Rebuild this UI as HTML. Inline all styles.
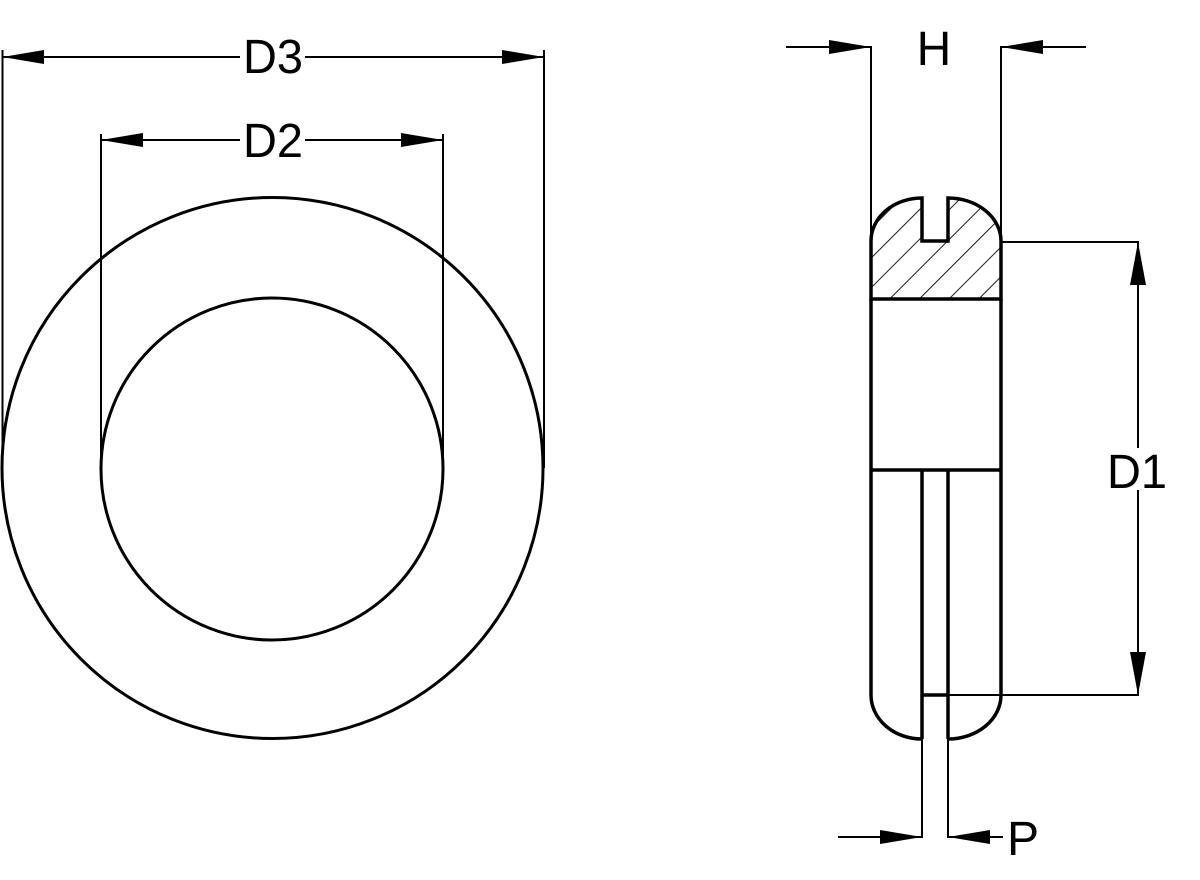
<!DOCTYPE html>
<html><head><style>html,body{margin:0;padding:0;background:#fff;}svg{display:block;}</style></head>
<body>
<svg width="1200" height="880" viewBox="0 0 1200 880" xmlns="http://www.w3.org/2000/svg">
<defs>
<pattern id="h" patternUnits="userSpaceOnUse" width="21" height="21" patternTransform="rotate(45)">
<line x1="0" y1="0" x2="0" y2="21" stroke="#000" stroke-width="1.8"/>
</pattern>
<clipPath id="c"><path d="M871,299 L871,241 A51,43 0 0 1 922,198 L922,241 L948,241 L948,198 A53,43 0 0 1 1001,241 L1001,299 Z"/></clipPath>
</defs>
<g fill="none" stroke="#000">
<circle cx="272.5" cy="468" r="270.5" stroke-width="3"/>
<circle cx="272" cy="469" r="171" stroke-width="3"/>
<line x1="2.5" y1="50" x2="2.5" y2="468" stroke-width="2"/>
<line x1="544" y1="50" x2="544" y2="468" stroke-width="2"/>
<line x1="101" y1="134" x2="101" y2="469" stroke-width="2"/>
<line x1="443" y1="134" x2="443" y2="469" stroke-width="2"/>
<line x1="2.5" y1="57" x2="240" y2="57" stroke-width="2"/>
<line x1="305" y1="57" x2="544" y2="57" stroke-width="2"/>
<line x1="101" y1="140" x2="240" y2="140" stroke-width="2"/>
<line x1="305" y1="140" x2="443" y2="140" stroke-width="2"/>
<rect x="860" y="190" width="150" height="120" fill="url(#h)" stroke="none" clip-path="url(#c)"/>
<path d="M871,299 L871,241 A51,43 0 0 1 922,198 L922,241 L948,241 L948,198 A53,43 0 0 1 1001,241 L1001,299 Z" stroke-width="3.5"/>
<line x1="871" y1="299" x2="871" y2="695" stroke-width="3.5"/>
<line x1="1001" y1="299" x2="1001" y2="695" stroke-width="3.5"/>
<line x1="871" y1="470" x2="1001" y2="470" stroke-width="3.5"/>
<path d="M871,695 A51,44 0 0 0 922,739" stroke-width="3.5"/>
<path d="M1001,695 A53,44 0 0 1 948,739" stroke-width="3.5"/>
<line x1="922" y1="470" x2="922" y2="739" stroke-width="3.5"/>
<line x1="948" y1="470" x2="948" y2="739" stroke-width="3.5"/>
<line x1="922" y1="695" x2="948" y2="695" stroke-width="3.5"/>
<line x1="871" y1="46" x2="871" y2="241" stroke-width="2"/>
<line x1="1001" y1="46" x2="1001" y2="241" stroke-width="2"/>
<line x1="786" y1="47" x2="871" y2="47" stroke-width="2"/>
<line x1="1001" y1="47" x2="1086" y2="47" stroke-width="2"/>
<line x1="1001" y1="242" x2="1139" y2="242" stroke-width="2"/>
<line x1="948" y1="695" x2="1139" y2="695" stroke-width="2"/>
<line x1="1138" y1="242" x2="1138" y2="448" stroke-width="2"/>
<line x1="1138" y1="490" x2="1138" y2="695" stroke-width="2"/>
<line x1="922" y1="739" x2="922" y2="838" stroke-width="2"/>
<line x1="948" y1="739" x2="948" y2="838" stroke-width="2"/>
<line x1="838" y1="837" x2="922" y2="837" stroke-width="2"/>
<line x1="948" y1="837" x2="1003" y2="837" stroke-width="2"/>
</g>
<g fill="#000">
<polygon points="2.5,57 44,50 44,64"/>
<polygon points="544,57 502,50 502,64"/>
<polygon points="101,140 143,133 143,147"/>
<polygon points="443,140 401,133 401,147"/>
<polygon points="871,47 829,40 829,54"/>
<polygon points="1001,47 1043,40 1043,54"/>
<polygon points="1138,242 1130,285 1146,285"/>
<polygon points="1138,695 1130,652 1146,652"/>
<polygon points="922,837 880,830 880,844"/>
<polygon points="948,837 990,830 990,844"/>
</g>
<g font-family="Liberation Sans, sans-serif" font-size="48" fill="#000" text-anchor="middle">
<text x="273" y="73" textLength="60" lengthAdjust="spacingAndGlyphs">D3</text>
<text x="273" y="157" textLength="60" lengthAdjust="spacingAndGlyphs">D2</text>
<text x="934" y="65">H</text>
<text x="1137" y="488" textLength="60" lengthAdjust="spacingAndGlyphs">D1</text>
<text x="1023" y="855">P</text>
</g>
</svg>
</body></html>
